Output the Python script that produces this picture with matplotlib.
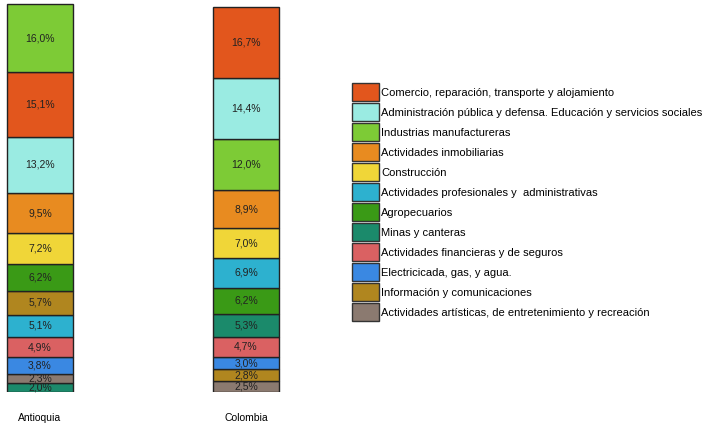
import matplotlib
matplotlib.use("Agg")
import matplotlib.pyplot as plt
from matplotlib.patches import Patch

plt.rcParams['font.family'] = ['Liberation Sans', 'DejaVu Sans']

regiones = ['Antioquia', 'Colombia']
sectores = ['Comercio, reparación, transporte y alojamiento',
            'Administración pública y defensa. Educación y servicios sociales',
            'Industrias manufactureras',
            'Actividades inmobiliarias',
            'Construcción',
            'Actividades profesionales y  administrativas',
            'Agropecuarios',
            'Minas y canteras',
            'Actividades financieras y de seguros',
            'Electricicada, gas, y agua.',
            'Información y comunicaciones',
            'Actividades artísticas, de entretenimiento y recreación']
antioquia = [15.1, 13.2, 16.0, 9.5, 7.2, 5.1, 6.2, 2.0, 4.9, 3.8, 5.7, 2.3]
colombia = [16.7, 14.4, 12.0, 8.9, 7.0, 6.9, 6.2, 5.3, 4.7, 3.0, 2.8, 2.5]
colores = ['#E2561D', '#9AEBE2', '#7DCB36', '#E88B20', '#F0D638', '#2DB1CF',
           '#3A9A16', '#1B8A6B', '#DA6162', '#3A88E2', '#B0861F', '#8B7A70']

fig = plt.figure(figsize=(7.11, 4.25), dpi=100)
ax = fig.add_axes([0, 33 / 425, 300 / 711, 390 / 425])

for i, vals in enumerate([antioquia, colombia]):
    # apilar de menor (abajo) a mayor (arriba)
    orden = sorted(range(len(vals)), key=lambda k: vals[k])
    base = 0
    for k in orden:
        ax.bar(i, vals[k], bottom=base, width=0.316, color=colores[k],
               edgecolor='#222222', linewidth=1)
        ax.text(i, base + vals[k] / 2, f"{vals[k]:.1f}%".replace('.', ','),
                ha='center', va='center', fontsize=7.5, color='#222222')
        base += vals[k]

ax.set_xlim(-40 / 206, 260 / 206)
ax.set_ylim(0, 91.5)
ax.set_xticks([0, 1])
ax.set_xticklabels(regiones, fontsize=7.5)
ax.tick_params(axis='x', length=0, pad=15)
ax.set_yticks([])
for s in ax.spines.values():
    s.set_visible(False)

handles = [Patch(facecolor=c, edgecolor='#333333', linewidth=1) for c in colores]
fig.legend(handles, sectores, loc='upper left', bbox_to_anchor=(352 / 711, 1 - 83 / 425),
           frameon=False, fontsize=8, handlelength=2.43, handleheight=2.12,
           labelspacing=0.18, handletextpad=0.2, borderpad=0, borderaxespad=0)

fig.savefig('out.png', dpi=100)
